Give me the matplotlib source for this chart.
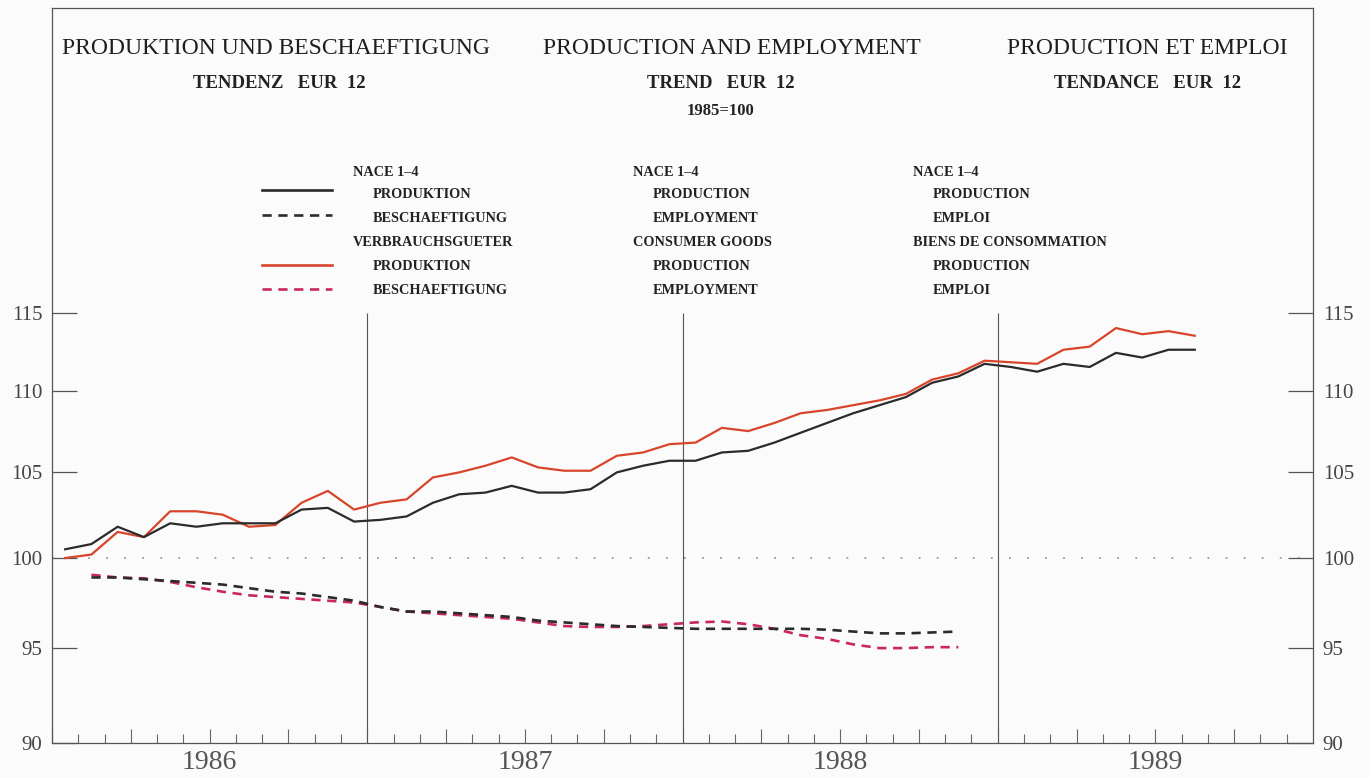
import numpy as np
import pandas as pd
import matplotlib
matplotlib.use("Agg")
import matplotlib.pyplot as plt
from matplotlib.ticker import FixedLocator, NullLocator, FixedFormatter

# monthly series, EUR 12, 1985=100
prod_start = "1986-01"
prod_nace = [100.5, 100.8, 101.8, 101.2, 102.0, 101.8, 102.0, 102.0, 102.0, 102.8, 102.9, 102.1,
             102.2, 102.4, 103.2, 103.7, 103.8, 104.2, 103.8, 103.8, 104.0, 105.0, 105.4, 105.7,
             105.7, 106.2, 106.3, 106.8, 107.4, 108.0, 108.6, 109.1, 109.6, 110.5, 110.9, 111.7,
             111.5, 111.2, 111.7, 111.5, 112.4, 112.1, 112.6, 112.6]
prod_cons = [100.0, 100.2, 101.5, 101.2, 102.7, 102.7, 102.5, 101.8, 101.9, 103.2, 103.9, 102.8,
             103.2, 103.4, 104.7, 105.0, 105.4, 105.9, 105.3, 105.1, 105.1, 106.0, 106.2, 106.7,
             106.8, 107.7, 107.5, 108.0, 108.6, 108.8, 109.1, 109.4, 109.8, 110.7, 111.1, 111.9,
             111.8, 111.7, 112.6, 112.8, 114.0, 113.6, 113.8, 113.5]

emp_start = "1986-02"
emp_nace = [98.9, 98.9, 98.8, 98.7, 98.6, 98.5, 98.3, 98.1, 98.0, 97.8, 97.6,
            97.25, 97.0, 97.0, 96.9, 96.8, 96.7, 96.5, 96.4, 96.3, 96.2, 96.15, 96.1,
            96.05, 96.05, 96.05, 96.05, 96.05, 96.0, 95.9, 95.8, 95.8, 95.85, 95.9]
emp_cons = [99.05, 98.9, 98.85, 98.65, 98.35, 98.1, 97.9, 97.8, 97.7, 97.6, 97.5,
            97.25, 97.0, 96.9, 96.8, 96.7, 96.6, 96.4, 96.2, 96.15, 96.15, 96.2, 96.3,
            96.4, 96.45, 96.3, 96.05, 95.7, 95.5, 95.2, 95.0, 95.0, 95.05, 95.05]

years = [1986, 1987, 1988, 1989]
yticks = [90, 95, 100, 105, 110, 115]

titles = ["PRODUKTION UND BESCHAEFTIGUNG", "PRODUCTION AND EMPLOYMENT", "PRODUCTION ET EMPLOI"]
subtitles = ["TENDENZ   EUR  12", "TREND   EUR  12", "TENDANCE   EUR  12"]
base_note = "1985=100"
legend_cols = [
    ["NACE 1\u20134", "PRODUKTION", "BESCHAEFTIGUNG", "VERBRAUCHSGUETER", "PRODUKTION", "BESCHAEFTIGUNG"],
    ["NACE 1\u20134", "PRODUCTION", "EMPLOYMENT", "CONSUMER GOODS", "PRODUCTION", "EMPLOYMENT"],
    ["NACE 1\u20134", "PRODUCTION", "EMPLOI", "BIENS DE CONSOMMATION", "PRODUCTION", "EMPLOI"],
]


def to_xpos(start, n):
    p = pd.period_range(start, periods=n, freq="M")
    return p.year + (p.month - 0.5) / 12.0


W, H = 1369, 778
fig = plt.figure(figsize=(W / 100, H / 100), dpi=100)
fig.patch.set_facecolor("#fbfbfb")
ax = fig.add_axes([52 / W, 1 - 743 / H, (1313 - 52) / W, (743 - 8) / H])
ax.set_facecolor("#fbfbfb")

serif = ["Liberation Serif", "DejaVu Serif"]
black = "#2b2b2b"
red = "#d8452b"
pink = "#c8285c"
dash = (0, (3.5, 2.5))

xp = to_xpos(prod_start, len(prod_nace))
xe = to_xpos(emp_start, len(emp_nace))

ax.plot(xp, prod_nace, color=black, lw=1.6, zorder=4)
ax.plot(xp, prod_cons, color=red, lw=1.6, zorder=3)
ax.plot(xe, emp_nace, color=black, lw=1.9, ls=dash, zorder=4)
ax.plot(xe, emp_cons, color=pink, lw=1.9, ls=dash, zorder=3)

ax.axhline(100, color="#9a9a9a", lw=1.3, ls=(0, (1, 9)), zorder=1)
ax.vlines(years[1:], 90, 115, color="#555555", lw=0.8, zorder=2)

ax.set_yscale("log")
ax.set_ylim(90, 136.8)
ax.set_xlim(1986, 1990)

ax.yaxis.set_major_locator(FixedLocator(yticks))
ax.yaxis.set_major_formatter(FixedFormatter([str(v) for v in yticks]))
ax.yaxis.set_minor_locator(NullLocator())
ax.tick_params(axis="y", which="major", direction="in", length=18, width=0.9, color="#555555",
               left=True, right=True, labelleft=True, labelright=True, pad=7,
               labelsize=15, labelcolor="#444444")
for lab in ax.get_yticklabels():
    lab.set_family(serif)

quarters = [y + q / 4 for y in years for q in range(4)]
months = [y + m / 12 for y in years for m in range(12)]
ax.xaxis.set_major_locator(FixedLocator(quarters))
ax.xaxis.set_minor_locator(FixedLocator(months))
ax.xaxis.set_major_formatter(FixedFormatter([""] * len(quarters)))
ax.tick_params(axis="x", which="major", direction="in", length=10, width=0.8, color="#666666")
ax.tick_params(axis="x", which="minor", direction="in", length=6.5, width=0.8, color="#666666")

for sp in ax.spines.values():
    sp.set_color("#555555")
    sp.set_linewidth(0.9)

for y in years:
    ax.text(y + 0.5, -0.026, str(y), transform=ax.get_xaxis_transform(), ha="center", va="center",
            fontsize=20, family=serif, color="#555555")

# headings
title_x = [276, 732, 1147]
sub_x = [279, 721, 1148]
for tx, sx, t, s in zip(title_x, sub_x, titles, subtitles):
    fig.text(tx / W, 1 - 48 / H, t, ha="center", va="center", fontsize=17, family=serif, color="#1e1e1e")
    fig.text(sx / W, 1 - 83 / H, s, ha="center", va="center", fontsize=13.5, family=serif,
             weight="bold", color="#222222")
fig.text(721 / W, 1 - 111 / H, base_note, ha="center", va="center", fontsize=12, family=serif,
         weight="bold", color="#222222")

# legend
rows_y = [172, 195, 218, 242, 266, 290]
col_x = [353, 633, 913]
for cx, col in zip(col_x, legend_cols):
    for i, (ry, txt) in enumerate(zip(rows_y, col)):
        indent = 0 if i in (0, 3) else 20
        fig.text((cx + indent) / W, 1 - ry / H, txt, ha="left", va="center", fontsize=10.3,
                 family=serif, weight="bold", color="#222222")

samples = [(190, black, "-"), (215, black, dash), (265, red, "-"), (289, pink, dash)]
for sy, c, ls in samples:
    fig.add_artist(plt.Line2D([262 / W, 332 / W], [1 - sy / H] * 2, color=c, lw=1.9, ls=ls,
                              transform=fig.transFigure))

fig.savefig("out.png", dpi=100, facecolor=fig.get_facecolor())
